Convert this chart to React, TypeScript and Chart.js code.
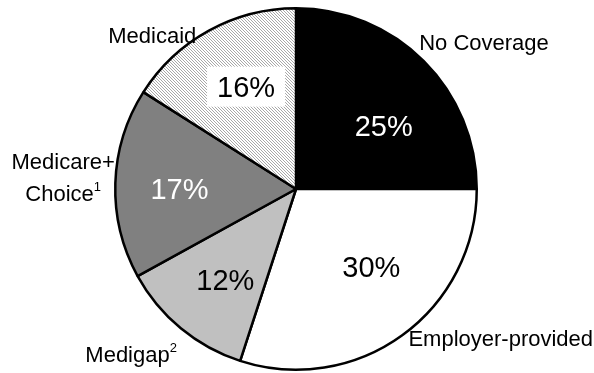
import React, { useEffect, useRef } from "react";
import { Chart, registerables } from "chart.js";

Chart.register(...registerables);

const categories = ["No Coverage", "Employer-provided", "Medigap", "Medicare+Choice", "Medicaid"];
const shares = [25, 30, 12, 17, 16];
const percentLabels = ["25%", "30%", "12%", "17%", "16%"];
const labelLines = [["No Coverage"], ["Employer-provided"], ["Medigap"], ["Medicare+", "Choice"], ["Medicaid"]];
const footnotes = ["", "", "2", "1", ""];

const FONT = "'Liberation Sans', Arial, Helvetica, sans-serif";

// label placement: angle nudge (deg) from slice mid-angle, and radius as a fraction of pie radius
const pctPlacement = [
  { da: 9, r: 0.6 },
  { da: -8, r: 0.6 },
  { da: -1.6, r: 0.635 },
  { da: -1.8, r: 0.645 },
  { da: 2.8, r: 0.63 },
];
const namePlacement = [
  { da: 7, r: 1.32 },
  { da: -18, r: 1.4 },
  { da: 5.4, r: 1.29 },
  { da: 1.2, r: 1.29 },
  { da: -14.2, r: 1.166 },
];
const pctColors = ["#ffffff", "#000000", "#000000", "#ffffff", "#000000"];
const pctBox = [false, false, false, false, true];

function makeHatch(): CanvasPattern | string {
  const c = document.createElement("canvas");
  c.width = 3;
  c.height = 3;
  const g = c.getContext("2d");
  if (!g) return "#d8d8d8";
  g.fillStyle = "#ffffff";
  g.fillRect(0, 0, 3, 3);
  g.fillStyle = "#a8a8a8";
  for (let i = 0; i < 3; i++) g.fillRect(i, i, 1, 1);
  const p = g.createPattern(c, "repeat");
  return p || "#d8d8d8";
}

const labelPlugin = {
  id: "sliceLabels",
  afterDatasetsDraw(chart: any) {
    const ctx: CanvasRenderingContext2D = chart.ctx;
    const meta = chart.getDatasetMeta(0);
    meta.data.forEach((arc: any, i: number) => {
      const { x, y, outerRadius, startAngle, endAngle } = arc.getProps(
        ["x", "y", "outerRadius", "startAngle", "endAngle"],
        true
      );
      const mid = (startAngle + endAngle) / 2;
      {
        const a = mid + (pctPlacement[i].da * Math.PI) / 180;
        const d = pctPlacement[i].r * outerRadius;
        const cx = x + Math.cos(a) * d;
        const cy = y + Math.sin(a) * d;
        const size = 29;
        ctx.save();
        ctx.font = `${size}px ${FONT}`;
        ctx.textAlign = "center";
        ctx.textBaseline = "alphabetic";
        const w = ctx.measureText(percentLabels[i]).width;
        if (pctBox[i]) {
          ctx.fillStyle = "#ffffff";
          ctx.fillRect(cx - w / 2 - 10, cy - 20, w + 20, 40);
        }
        ctx.fillStyle = pctColors[i];
        ctx.fillText(percentLabels[i], cx, cy + size * 0.358);
        ctx.restore();
      }
      {
        const a = mid + (namePlacement[i].da * Math.PI) / 180;
        const d = namePlacement[i].r * outerRadius;
        const cx = x + Math.cos(a) * d;
        const cy = y + Math.sin(a) * d;
        const size = 22;
        const lineH = 32;
        const lines = labelLines[i];
        ctx.save();
        ctx.fillStyle = "#000000";
        ctx.textBaseline = "alphabetic";
        ctx.textAlign = "left";
        const top = cy - ((lines.length - 1) * lineH) / 2;
        lines.forEach((ln, k) => {
          const isLast = k === lines.length - 1;
          const sup = isLast ? footnotes[i] : "";
          ctx.font = `${size}px ${FONT}`;
          const w = ctx.measureText(ln).width;
          ctx.font = `13px ${FONT}`;
          const ws = sup ? ctx.measureText(sup).width : 0;
          const total = w + ws;
          const left = cx - total / 2;
          const base = top + k * lineH + size * 0.358;
          ctx.font = `${size}px ${FONT}`;
          ctx.fillText(ln, left, base);
          if (sup) {
            ctx.font = `13px ${FONT}`;
            ctx.fillText(sup, left + w, base - 10);
          }
        });
        ctx.restore();
      }
    });
  },
};

export default function App() {
  const ref = useRef<HTMLCanvasElement | null>(null);
  useEffect(() => {
    const canvas = ref.current;
    if (!canvas) return;
    const chart = new Chart(canvas, {
      type: "pie",
      data: {
        labels: categories,
        datasets: [
          {
            data: shares,
            backgroundColor: ["#000000", "#ffffff", "#c0c0c0", "#808080", makeHatch() as any],
            borderColor: "#000000",
            borderWidth: 2.5,
            hoverOffset: 0,
          },
        ],
      },
      options: {
        responsive: false,
        animation: false,
        events: [],
        layout: { padding: { left: 114, right: 116, top: 7, bottom: 2 } },
        plugins: {
          legend: { display: false },
          tooltip: { enabled: false },
          title: { display: false },
        },
      },
      plugins: [labelPlugin],
    });
    return () => chart.destroy();
  }, []);
  return (
    <div style={{ position: "fixed", left: 0, top: 0, width: 594, height: 373, background: "#ffffff" }}>
      <canvas ref={ref} width={594} height={373} style={{ width: 594, height: 373, display: "block" }} />
    </div>
  );
}
